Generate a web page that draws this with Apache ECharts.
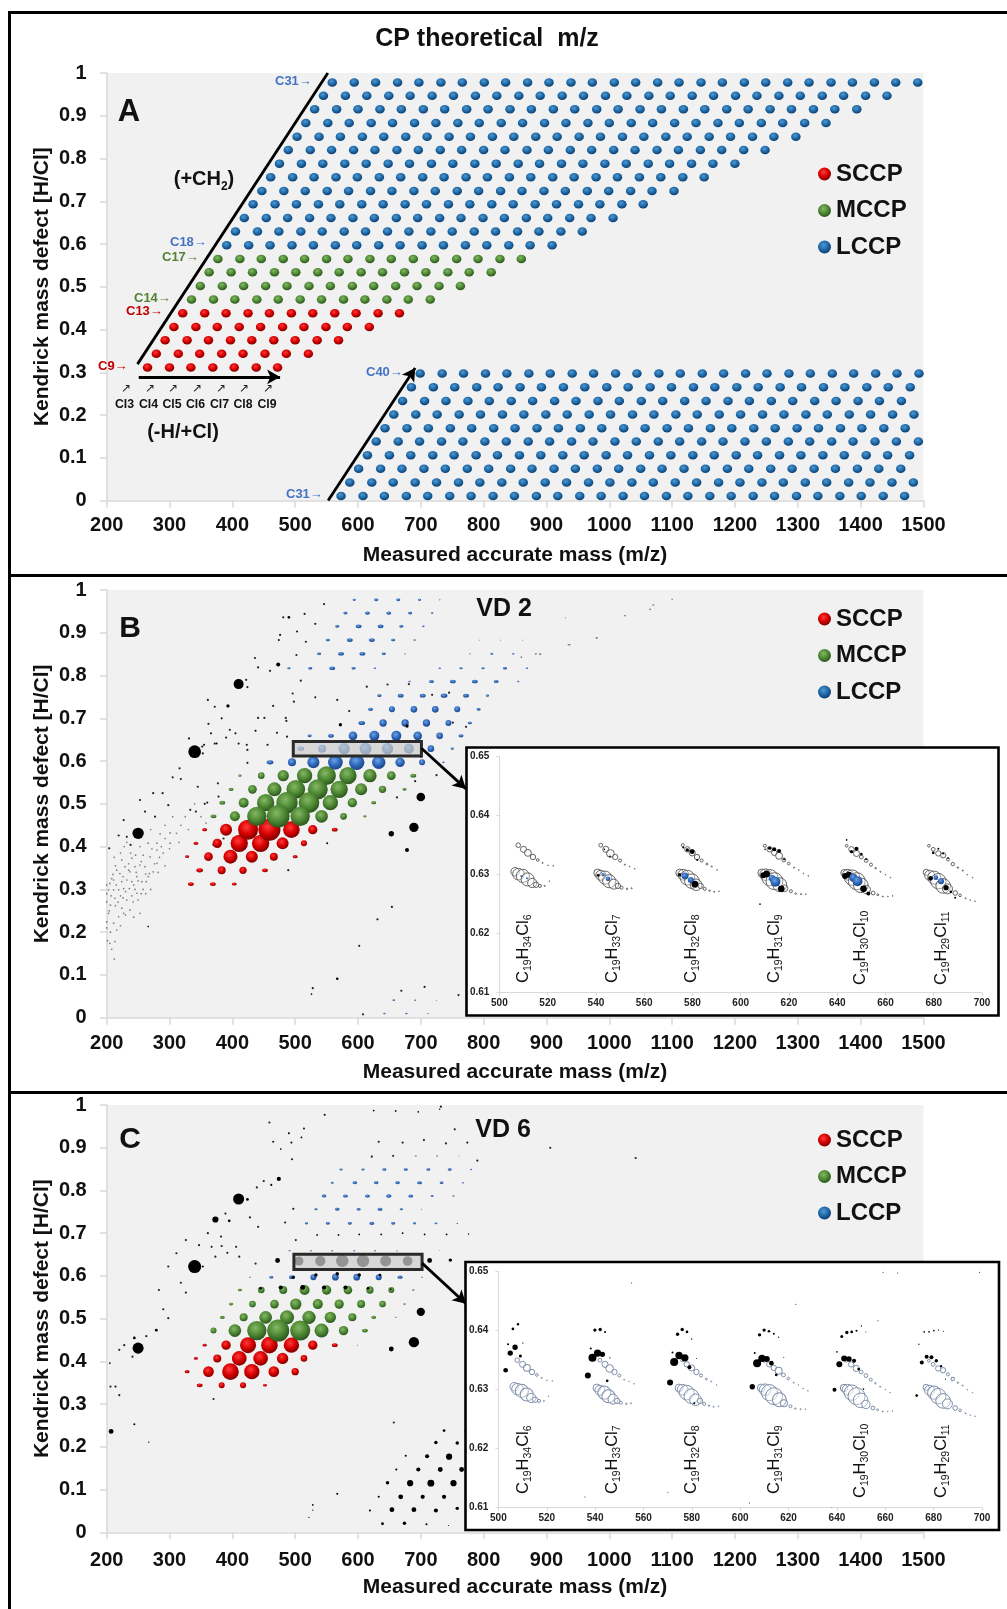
<!DOCTYPE html>
<html><head><meta charset="utf-8">
<script src="https://cdn.jsdelivr.net/npm/echarts@6/dist/echarts.min.js"></script>
<style>html,body{margin:0;padding:0;background:#fff}#c{width:1007px;height:1609px}</style>
</head><body><div id="c"></div>
<script>
// ---------- Panel A: theoretical m/z per carbon row ----------
const aSccpKmd=[.311,.343,.375,.406,.438];
const aSccpMass=[
[265,300,334,369,403,438,472],
[279,314,348,383,417,452,486,521],
[293,328,362,397,431,466,500,535,569],
[307,342,376,411,445,480,514,549,583,618],
[321,356,390,425,459,494,528,563,597,632,666]];
const aMccpKmd=[.470,.502,.534,.565];
const aMccpMass=[
[335,370,404,439,473,508,542,577,611,646,680,715],
[349,384,418,453,487,522,556,591,625,660,694,729,763],
[363,398,432,467,501,536,570,605,639,674,708,743,777,812],
[377,412,446,481,515,550,584,619,653,688,722,757,791,826,860]];
const aLccpKmd=[.597,.629,.661,.693,.724,.756,.788,.820,.851,.883,.915,.947,.978];
const aLccpMass=[
[391,426,460,495,529,564,598,633,667,702,736,771,805,840,874,909],
[405,440,474,509,543,578,612,647,681,716,750,785,819,854,888,923,957],
[419,454,488,523,557,592,626,661,695,730,764,799,833,868,902,937,971,1006],
[433,468,502,537,571,606,640,675,709,744,778,813,847,882,916,951,985,1020,1054],
[447,482,516,551,585,620,654,689,723,758,792,827,861,896,930,965,999,1034,1068,1103],
[461,496,530,565,599,634,668,703,737,772,806,841,875,910,944,979,1013,1048,1082,1117,1151],
[475,510,544,579,613,648,682,717,751,786,820,855,889,924,958,993,1027,1062,1096,1131,1165,1200],
[489,524,558,593,627,662,696,731,765,800,834,869,903,938,972,1007,1041,1076,1110,1145,1179,1214,1248],
[503,538,572,607,641,676,710,745,779,814,848,883,917,952,986,1021,1055,1090,1124,1159,1193,1228,1262,1297],
[517,552,586,621,655,690,724,759,793,828,862,897,931,966,1000,1035,1069,1104,1138,1173,1207,1242,1276,1311,1345],
[531,566,600,635,669,704,738,773,807,842,876,911,945,980,1014,1049,1083,1118,1152,1187,1221,1256,1290,1325,1359,1394],
[545,580,614,649,683,718,752,787,821,856,890,925,959,994,1028,1063,1097,1132,1166,1201,1235,1270,1304,1339,1373,1408,1442],
[559,594,628,663,697,732,766,801,835,870,904,939,973,1008,1042,1077,1111,1146,1180,1215,1249,1284,1318,1353,1387,1422,1456,1491]];
const aWrapKmd=[.0105,.042,.074,.106,.138,.169,.201,.233,.265,.297];
const aWrapMass=[
[573,608,642,677,711,746,780,815,849,884,918,953,987,1022,1056,1091,1125,1160,1194,1229,1263,1298,1332,1367,1401,1436,1470],
[587,622,656,691,725,760,794,829,863,898,932,967,1001,1036,1070,1105,1139,1174,1208,1243,1277,1312,1346,1381,1415,1450,1484],
[601,636,670,705,739,774,808,843,877,912,946,981,1015,1050,1084,1119,1153,1188,1222,1257,1291,1326,1360,1395,1429,1464],
[615,650,684,719,753,788,822,857,891,926,960,995,1029,1064,1098,1133,1167,1202,1236,1271,1305,1340,1374,1409,1443,1478],
[629,664,698,733,767,802,836,871,905,940,974,1009,1043,1078,1112,1147,1181,1216,1250,1285,1319,1354,1388,1423,1457,1492],
[643,678,712,747,781,816,850,885,919,954,988,1023,1057,1092,1126,1161,1195,1230,1264,1299,1333,1368,1402,1437,1471],
[657,692,726,761,795,830,864,899,933,968,1002,1037,1071,1106,1140,1175,1209,1244,1278,1313,1347,1382,1416,1451,1485],
[671,706,740,775,809,844,878,913,947,982,1016,1051,1085,1120,1154,1189,1223,1258,1292,1327,1361,1396,1430,1465],
[685,720,754,789,823,858,892,927,961,996,1030,1065,1099,1134,1168,1203,1237,1272,1306,1341,1375,1410,1444,1479],
[699,734,768,803,837,872,906,941,975,1010,1044,1079,1113,1148,1182,1217,1251,1286,1320,1355,1389,1424,1458,1493]];

// ---------- Panel B (VD 2): rows are [kmd, m/z, intensity, m/z, intensity, ...] ----------
const bSccp=[
[.3125,334,14,369,14,403,12],
[.3445,348,16,383,24,417,22,452,14],
[.3765,328,10,362,26,397,42,431,36,466,24,500,12],
[.4076,342,12,376,28,411,52,445,52,480,36,514,18],
[.4396,356,12,390,36,425,60,459,66,494,50,528,28,563,14]];
const bMccp=[
[.5659,412,8,446,20,481,34,515,46,550,56,584,52,619,40,653,26,688,14],
[.5339,398,12,432,26,467,42,501,56,536,60,570,52,605,36,639,22,674,10],
[.5027,384,14,418,30,453,52,487,64,522,62,556,46,591,28,625,12],
[.4708,370,14,404,30,439,58,473,68,508,58,542,38,577,20,611,8]];
const bLccp=[
[.597,460,16,495,24,529,36,564,44,598,46,633,40,667,28,702,18,736,6],
[.629,509,16,543,24,578,34,612,36,647,34,681,30,716,20,750,8],
[.659,523,10,557,14,592,26,626,30,661,30,695,26,730,20,764,12],
[.689,606,16,640,22,675,22,709,22,744,18,778,10],
[.721,620,12,654,18,689,20,723,20,758,18,792,10],
[.753,634,10,668,14,703,14,737,16,772,14,806,8],
[.786,682,6,717,12,751,14,786,14,820,12,855,6],
[.817,490,8,524,10,559,14,593,10,627,6,730,6,764,8,799,8,834,10,869,6],
[.851,538,10,573,14,607,14,641,10,675,4,778,4,813,7,847,6,883,5],
[.883,552,10,587,14,622,14,656,10,690,6,793,3,827,3,862,3],
[.915,567,10,601,14,636,14,669,10,704,6],
[.946,580,10,615,12,649,12,683,10,718,6],
[.977,594,8,629,10,664,10,698,8,730,4],
[.041,657,6,691,5,725,3],
[.010,642,6,677,6,711,4]];
const bTraceGrey=[[936,.872,8],[980,.888,6],[1025,.940,4],[1065,.955,5],[1070,.965,5],[890,.850,6],[860,.843,4],[930,.935,2],[1100,.978,3]];
const bBlack=[[250,.431,34],[340,.622,38],[410,.780,30],[700,.516,26],[689,.445,28],[653,.430,16],[678,.392,12],[473,.826,12],[393,.729,10],[572,.685,10],[678,.682,10],
[375,.641,6],[490,.936,8],[437,.671,6],[567,.091,8],[526,.055,5],[266,.213,5],[551,.408,6]];
const bTrace=[[204,.396],[219,.426],[227,.462],[232,.423],[238,.404],[253,.509],[274,.525],[289,.525],[261,.482],[277,.470],[298,.497],[316,.583],[305,.562],[318,.558],[333,.486],[342,.482],[345,.540],[360,.503],[356,.500],[377,.548],[378,.517],[331,.653],[362,.687],[355,.638],[372,.641],[366,.665],[390,.655],[396,.673],[405,.665],[423,.638],[424,.626],[353,.618],[352,.634],[410,.641],[383,.700],[424,.773],[422,.790],[372,.727],[361,.743],[436,.841],[441,.819],[460,.811],[481,.936],[515,.944],[503,.903],[476,.895],[474,.883],[546,.967],[532,.921],[517,.879],[502,.848],[509,.788],[496,.758],[498,.739],[465,.729],[441,.701],[451,.701],[485,.701],[486,.694],[471,.666],[456,.638],[424,.596],[532,.749],[567,.743],[614,.774],[647,.779],[681,.780],[586,.717],[725,.567],[691,.553],[602,.168],[631,.230],[654,.259],[528,.069],[669,.063],[706,.072],[760,.053],[608,.008],[487,.657],[662,.515],[489,.345],[386,.419],[370,.404],[751,.690],[772,.680],[718,.755],[745,.760],[786,.555],[700,.610]];
const bCloud=[[203,.299],[211,.299],[219,.299],[227,.302],[236,.302],[245,.300],[200,.271],[206,.263],[213,.279],[224,.256],[232,.275],[242,.271],[250,.275],[203,.244],[211,.221],[200,.224],[205,.174],[213,.178],[212,.137],[224,.318],[232,.322],[240,.318],[248,.330],[256,.318],[221,.337],[229,.353],[237,.341],[245,.353],[253,.357],[261,.353],[268,.337],[274,.341],[224,.369],[240,.373],[258,.380],[269,.376],[280,.392],[287,.400],[301,.408],[293,.419],[280,.408],[311,.431],[293,.450],[253,.400],[266,.408],[216,.345],[211,.322],[205,.314],[227,.244],[253,.244],[237,.252],[280,.361],[263,.318],[248,.291],[219,.236],[208,.325],[215,.310],[230,.295],[262,.336],[246,.380],[272,.395],[284,.375],[250,.320],[235,.360],[222,.285],[204,.250],[214,.262],[301,.432],[318,.450],[325,.470],[200,.210],
[210,.335],[226,.330],[243,.310],[258,.300],[266,.330],[276,.360],[290,.385],[300,.395],[255,.365],[238,.385],[228,.400],[252,.420],[270,.440],[285,.430],[305,.470],[315,.410],[330,.440],[340,.500],[350,.470],[358,.455],[200,.290],[200,.310],[207,.285],[218,.270],[226,.280],[240,.285],[255,.290],[206,.200],[216,.205],[222,.215],[230,.240],[243,.235],[201,.180],[208,.160],[262,.290],[270,.300],[282,.340],[293,.355],[235,.345],[247,.340],[214,.355],[222,.385],[232,.410],[212,.375]];

// ---------- Panel C (VD 6) ----------
const cSccp=[
[.344,348,14,383,18,417,18,452,10],
[.376,328,12,362,32,397,50,431,46,466,32,500,22],
[.407,342,10,376,24,411,44,445,44,480,34,514,20],
[.438,356,10,390,28,425,48,459,50,494,46,528,28,563,14,599,3]];
const cMccp=[
[.567,412,10,446,20,481,24,515,30,550,28,584,26,619,22,653,18,688,6],
[.534,398,10,432,20,467,26,501,34,536,30,570,28,605,24,639,20,674,6],
[.503,384,12,418,24,453,38,487,42,522,40,556,34,591,24,625,12,660,4],
[.472,370,18,404,38,439,58,473,66,508,60,542,42,577,28,611,14]];
const cLccp=[
[.597,428,4,462,10,495,14,529,18,564,20,598,20,633,18,667,12,702,4],
[.659,491,5,525,5,559,5,594,5,627,5,662,4,730,3],
[.723,518,8,552,10,587,10,622,12,656,10,690,8,724,7,758,4],
[.756,533,8,567,11,601,10,635,12,669,8,701,3],
[.787,546,11,580,12,615,12,649,13,684,12,718,7,752,5],
[.818,559,7,595,11,629,11,663,11,698,12,733,9,767,5],
[.849,573,8,608,8,642,10,676,10,712,9,746,9,780,5],
[.881,622,3,656,4,692,5,726,5,761,3]];
const cBlack=[[250,.431,32],[340,.622,38],[410,.780,32],[373,.732,18],[700,.516,24],[689,.445,30],[653,.429,14],[474,.827,12],[207,.236,14],[244,.253,6],[279,.473,8],[244,.455,8],[462,.813,6],[395,.729,8],[490,.934,6],[510,.924,5],[477,.897,5],[424,.779,8],[353,.622,6],[267,.211,4],[205,.396,5],
[506,.635,26],[540,.635,30],[575,.635,36],[608,.635,36],[644,.635,32],[679,.635,28],[472,.636,14],[714,.636,14],[747,.637,10],
[445,.571,8],[477,.573,12],[512,.573,14],[546,.573,12],[580,.573,12],[616,.571,8],[652,.569,5],[497,.597,9],[533,.602,10],[567,.605,10],[602,.602,10],[635,.602,8],
[625,.987,5],[660,.986,5],[696,.984,5],[730,.990,4],[535,.696,5],[569,.696,5],[602,.697,5],[637,.697,5],[671,.700,5],[706,.697,5],[741,.697,5],[776,.698,4],
[619,.051,6],[654,.053,14],[689,.053,14],[724,.051,12],[758,.056,10],[633,.083,6],[668,.083,14],[703,.083,12],[737,.083,12],[647,.116,10],[683,.115,18],[716,.115,20],[752,.115,18],[661,.147,6],[696,.147,12],[731,.147,14],[765,.147,14],[676,.179,6],[710,.178,12],[745,.177,18],[724,.210,10],[758,.209,10],[737,.238,8],[771,.236,6],[639,.020,8],[674,.021,10],[709,.019,6],[744,.016,3],[567,.090,6],[528,.064,5],[528,.052,4],[522,.035,4]];
const cTrace=[[220,.427],[228,.438],[241,.411],[263,.459],[290,.522],[298,.501],[283,.567],[318,.584],[326,.561],[311,.653],[298,.622],[326,.684],[347,.672],[361,.700],[367,.668],[373,.645],[382,.692],[383,.670],[392,.654],[406,.668],[411,.645],[389,.746],[428,.737],[441,.715],[437,.629],[439,.807],[450,.822],[459,.959],[495,.873],[465,.914],[494,.912],[514,.945],[547,.977],[633,.914],[671,.912],[705,.918],[740,.910],[774,.912],[754,.943],[732,.996],[622,.879],[656,.881],[484,.725],[501,.684],[370,.312],[497,.757],[657,.257],[214,.341],[220,.321],[206,.341],[1042,.876],[906,.900],[790,.870]];

// ---------- Insets: [m/z, kmd, intensity] ----------
const insetHollow=[
[507.8,.635,12],[510,.6343,16],[511.8,.6337,18],[513.9,.633,14],[515.9,.6325,7],[517.9,.632,3],[520.1,.6316,2],[522.3,.6315,2],
[506.5,.6305,22],[507.9,.6301,30],[509.7,.6298,34],[511.7,.6292,34],[513.6,.6286,24],[515.2,.6283,14],[516.8,.6281,8],[518.8,.6281,3],[520.7,.6289,2],
[542,.635,10],[544.1,.6343,16],[546,.6336,20],[548,.633,14],[550,.6324,8],[552,.6317,3],[554,.6314,2],[556.1,.631,2],
[540.7,.6303,20],[542,.6299,26],[543.8,.6295,34],[545.5,.6289,34],[547.4,.6284,26],[549.1,.6281,14],[550.6,.6278,8],[552.9,.6276,4],[554.8,.6277,3],
[576,.635,8],[577.9,.6343,14],[579.9,.6337,16],[581.9,.633,14],[583.8,.6324,8],[586,.6318,5],[588,.6314,3],[590.2,.6308,2],
[574.7,.6303,20],[576.2,.63,28],[577.9,.6295,38],[579.8,.6289,38],[581.5,.6283,30],[583.4,.6281,14],[585.1,.6276,8],[587.1,.6273,4],[589,.6271,3],[591,.6272,2],
[610,.6349,8],[612,.6343,14],[613.9,.6337,14],[615.9,.6332,18],[617.9,.6325,10],[619.9,.6319,7],[622.1,.6312,3],[624.1,.6308,2],[626,.6302,2],[628,.6298,2],
[608.7,.6303,20],[610.3,.63,30],[612.1,.6295,42],[614,.6289,44],[616.2,.6283,36],[618.1,.6277,18],[620.8,.6272,8],[622.8,.6268,4],[625,.6267,3],[627,.6267,2],
[643.9,.6349,7],[645.9,.6343,14],[648,.6336,16],[650,.633,10],[652,.6324,10],[654,.6317,8],[655.9,.6311,4],[657.9,.6305,3],[660,.63,2],[662,.6295,2],
[642.9,.6303,18],[644.4,.63,28],[646.2,.6295,40],[648.1,.6289,44],[649.8,.6282,38],[652,.6275,22],[654.9,.6269,10],[656.8,.6266,5],[658.9,.6263,3],[661,.6263,2],[663,.6264,2],
[678,.6349,7],[679.8,.6343,10],[681.9,.6336,14],[683.9,.6333,14],[685.9,.6326,8],[687.9,.6318,9],[690,.6312,4],[692,.6307,3],[693.9,.63,2],[696.1,.6295,2],
[676.9,.6304,16],[678.3,.6299,26],[680.2,.6295,34],[681.9,.6289,40],[683.9,.6281,38],[685.7,.6276,26],[688.9,.6269,12],[690.9,.6265,7],[693.2,.626,3],[695.1,.6257,2],[697.1,.6255,2]];
const insetBBlack=[
[509,.6298,4],[543.5,.6343,5],[545.8,.6331,5],[540.9,.6299,8],
[574.7,.63,10],[581,.6284,20],[576.2,.6346,6],[577.9,.6342,10],[579.9,.6339,14],[582,.6325,6],
[609.4,.6299,18],[610.8,.6301,20],[616.8,.6276,20],[610.1,.6343,5],[612,.6345,10],[613.9,.6343,12],[615.9,.634,12],[618,.6326,6],[608,.625,5],
[643.3,.6298,18],[644.9,.63,18],[650.9,.6276,20],[652.9,.6268,12],[643.9,.6359,5],[645.9,.6339,10],[648,.6344,12],[650,.6335,8],[652,.6326,6],
[678.7,.6294,14],[685.1,.6278,16],[687.1,.6271,8],[688.9,.6261,6],[681.9,.6344,6],[679.8,.6337,8],[683.9,.6336,6],[685.9,.6328,5]];
const insetBBlue=[[509.3,.6298,6],[511.4,.6294,6],[543,.63,10],[545,.6293,14],[576.9,.6298,20],[579.3,.6291,18],[613,.6294,20],[614.4,.6288,30],[646.7,.6295,24],[648.4,.6289,30],[680.9,.6295,14],[683,.6289,18]];
const insetCBlack=[
[503,.6333,14],[504.9,.6362,16],[506.9,.6372,16],[504,.6377,6],[510.1,.6379,4],[506,.6403,8],[508.1,.6411,7],[509.1,.6357,9],[535.8,.6118,3],
[537,.6324,18],[538.9,.6354,24],[541,.6362,22],[543,.636,16],[538.2,.637,6],[539.9,.6401,10],[542.1,.6402,10],[544.1,.6398,6],[546.1,.6354,4],[545,.6315,8],[555.1,.6481,3],
[571,.6312,18],[572.7,.6347,24],[574.7,.6358,22],[577.1,.6354,22],[579,.6338,12],[572,.6363,6],[574.1,.6394,10],[576,.6402,10],[578,.6398,8],[579.9,.6386,4],[581.9,.6353,3],[581,.6277,6],[570.1,.6126,3],
[605,.6305,16],[607,.6345,24],[609,.6353,22],[611,.6352,18],[612.9,.6345,14],[606,.6362,6],[608,.6393,10],[609.9,.6401,10],[611.9,.6399,8],[613.9,.6395,6],[615.9,.6389,4],[618,.6355,3],[614.9,.6325,8],[623,.6445,3],[603.8,.6108,3],
[639,.63,12],[641,.6343,18],[643,.6353,18],[645,.6352,16],[647.1,.6349,12],[640,.6364,5],[642,.639,9],[644.1,.6397,10],[646.1,.6398,8],[648.1,.64,6],[650.1,.6408,4],[652,.6398,3],[649,.6335,8],[651,.6301,5],[657,.6417,3],[659.1,.6499,3],[665.1,.6498,3],[637.9,.61,2],
[673,.629,8],[675.1,.6346,12],[677.1,.6356,12],[679.1,.6355,12],[681.1,.6349,10],[683.1,.634,7],[673.9,.6377,4],[676.1,.6398,5],[678.1,.6398,5],[680.1,.64,5],[682,.6401,4],[684.1,.6399,3],[684.9,.6318,4],[699,.6499,3]];

// tick labels / text
const insetFormulas=[['34','6'],['33','7'],['32','8'],['31','9'],['30','10'],['29','11']];
const insetColumnsX=[524.5,613.5,692.5,775,861,942];

// ---------- helpers ----------
const FF='"Liberation Sans",Arial,sans-serif';
const sphere=(l,m,d)=>({type:'radial',x:.42,y:.36,r:.64,colorStops:[{offset:0,color:l},{offset:.55,color:m},{offset:1,color:d}]});
const RED=sphere('#ff3a3a','#d80000','#7d0000'),GREEN=sphere('#86b765','#4f8a35','#2c561d'),
 BLUEA=sphere('#4f9ad2','#1f6aa8','#0d3f70'),BLUE=sphere('#6ea2e6','#3069bd','#1b4486');
const fromRows=(kmd,mass)=>mass.flatMap((r,i)=>r.map(m=>[m,kmd[i]]));
const flat=rows=>rows.flatMap(r=>{const o=[];for(let i=1;i<r.length;i+=2)o.push([r[i],r[0],r[i+1]]);return o;});
const sizeBall=v=>v[2]<18?[v[2]/2.4,v[2]/3.8]:v[2]/3;
const sizeDot=v=>v[2]/2.9;
const sizeInt=v=>v[2]/3;
const sizeHollow=v=>v[2]/2.6;
const axisGrey={color:'#d9d9d9',width:1.5};
const mainX=(g,margin,gap)=>({type:'value',gridIndex:g,min:200,max:1500,interval:100,name:'Measured accurate mass (m/z)',nameLocation:'middle',nameGap:gap,nameMoveOverlap:false,
 nameTextStyle:{fontFamily:FF,fontWeight:'bold',fontSize:21,color:'#111'},axisLine:{show:true,onZero:false,lineStyle:axisGrey},axisTick:{show:true,length:7,lineStyle:axisGrey},
 axisLabel:{margin,fontFamily:FF,fontWeight:'bold',fontSize:20,color:'#111',hideOverlap:false,formatter:v=>String(v)},splitLine:{show:false}});
const mainY=g=>({type:'value',gridIndex:g,min:0,max:1,interval:.1,name:'Kendrick mass defect [H/Cl]',nameLocation:'middle',nameGap:54,nameMoveOverlap:false,
 nameTextStyle:{fontFamily:FF,fontWeight:'bold',fontSize:21,color:'#111'},axisLine:{show:true,onZero:false,lineStyle:axisGrey},axisTick:{show:true,length:7,lineStyle:axisGrey},
 axisLabel:{margin:20,fontFamily:FF,fontWeight:'bold',fontSize:20,color:'#111',formatter:v=>String(+v.toFixed(1))},splitLine:{show:false}});
const insetGrey={color:'#d9d9d9',width:1};
const insetX=g=>({type:'value',gridIndex:g,min:500,max:700,interval:20,z:30,axisLine:{show:true,onZero:false,lineStyle:insetGrey},axisTick:{show:true,length:3,lineStyle:insetGrey},
 axisLabel:{margin:6,fontFamily:FF,fontWeight:'bold',fontSize:10,color:'#222',formatter:v=>String(v)},splitLine:{show:false}});
const insetY=g=>({type:'value',gridIndex:g,min:.61,max:.65,interval:.01,z:30,axisLine:{show:true,onZero:false,lineStyle:insetGrey},axisTick:{show:true,length:3,lineStyle:insetGrey},
 axisLabel:{margin:10,fontFamily:FF,fontWeight:'bold',fontSize:10,color:'#222',formatter:v=>v.toFixed(2)},splitLine:{show:false}});
const scat=(name,g,data,size,style,z)=>({type:'scatter',name,xAxisIndex:g,yAxisIndex:g,data,symbol:'circle',symbolSize:size,itemStyle:Object.assign({opacity:1},style),z:z||2,silent:true,animation:false,clip:true,progressive:0,large:false});
const lineSeg=(a,b,arrow)=>[{coord:a,symbol:'none'},{coord:b,symbol:arrow?'arrow':'none',symbolSize:arrow?[11,13]:0}];
const notes=(g,lines,box)=>{const s={type:'scatter',xAxisIndex:g,yAxisIndex:g,data:[],silent:true,animation:false,z:6,
 markLine:{silent:true,animation:false,z:7,label:{show:false},lineStyle:{color:'#000',width:2.8,type:'solid'},data:lines}};
 if(box)s.markArea={silent:true,animation:false,z:6,label:{show:false},itemStyle:{color:'rgba(205,205,205,.72)',borderColor:'#2a2a2a',borderWidth:3},data:[[{coord:[box[0],box[2]]},{coord:[box[1],box[3]]}]]};
 return s;};

// ---------- series ----------
const series=[
 scat('SCCP',0,fromRows(aSccpKmd,aSccpMass),[9.5,8.5],{color:RED}),
 scat('MCCP',0,fromRows(aMccpKmd,aMccpMass),[9.5,8.5],{color:GREEN}),
 scat('LCCP',0,fromRows(aLccpKmd,aLccpMass),[9.5,8.5],{color:BLUEA}),
 scat('LCCP',0,fromRows(aWrapKmd,aWrapMass),[9.5,8.5],{color:BLUEA}),
 notes(0,[lineSeg([249,.319],[552,1]),lineSeg([552.5,0],[691,.31],true),lineSeg([251,.289],[476,.289],true)]),

 scat('cloud',1,bCloud,1.7,{color:'rgba(50,50,50,.6)'}),
 scat('trace',1,bTrace,2.2,{color:'#222'}),
 scat('traceGrey',1,bTraceGrey,v=>[v[2]/2.4,1.6],{color:'#777'}),
 scat('SCCP',1,flat(bSccp),sizeBall,{color:RED},3),
 scat('MCCP',1,flat(bMccp),sizeBall,{color:GREEN},3),
 scat('LCCP',1,flat(bLccp),sizeBall,{color:BLUE},3),
 scat('black',1,bBlack,sizeInt,{color:'#000'},3),
 notes(1,[lineSeg([701,.63],[772,.535],true)],[497,701,.612,.646]),

 scat('trace',2,cTrace,2.2,{color:'#222'}),
 scat('SCCP',2,flat(cSccp),sizeBall,{color:RED},3),
 scat('MCCP',2,flat(cMccp),sizeBall,{color:GREEN},3),
 scat('LCCP',2,flat(cLccp),sizeBall,{color:BLUE},3),
 scat('black',2,cBlack,sizeDot,{color:'#000'},4),
 notes(2,[lineSeg([702,.63],[772,.535],true)],[498,702,.615,.651]),

 scat('hollow',3,insetHollow,sizeHollow,{color:'rgba(255,255,255,.35)',borderColor:'#555',borderWidth:.9},31),
 scat('black',3,insetBBlack,sizeInt,{color:'#000'},32),
 scat('blue',3,insetBBlue,sizeInt,{color:BLUE},33),

 scat('hollow',4,insetHollow,sizeHollow,{color:'rgba(255,255,255,.35)',borderColor:'#7f8fa9',borderWidth:1},31),
 scat('black',4,insetCBlack,sizeInt,{color:'#000'},32)
];

// ---------- text and frame ----------
const g=[];
const rect=(x,y,w,h)=>g.push({type:'rect',shape:{x,y,width:w,height:h},style:{fill:'#000'},z:50,silent:true});
rect(8,11,999,3);rect(8,11,3,1598);rect(11,574,996,3);rect(11,1091,996,3);
const txt=(t,x,y,size,o={})=>g.push({type:'text',x,y,rotation:o.rot||0,z:o.z||60,silent:true,style:Object.assign({text:t,fontFamily:FF,fontWeight:o.w||'bold',fontSize:size,fill:o.c||'#111',align:o.a||'center',verticalAlign:'middle'},o.rich?{rich:o.rich}:{})});
txt('CP theoretical  m/z',487,39,25);
txt('VD 2',504,609,25);
txt('VD 6',503,1130,25);
txt('A',129,112,31);txt('B',130,629,30);txt('C',130,1140,30);

const mkLbl=(c)=>({l:{fontFamily:FF,fontWeight:'bold',fontSize:13,fill:c,color:c},r:{fontFamily:FF,fontSize:13,fill:c,color:c}});
[['C31',275,81,'#4472c4'],['C18',170,242,'#4472c4'],['C17',162,257,'#548235'],['C14',134,298,'#548235'],['C13',126,311,'#c00000'],['C9',98,366,'#c00000'],['C40',366,372,'#4472c4'],['C31',286,494,'#4472c4']]
 .forEach(([t,x,y,c])=>txt('{l|'+t+'}{r|→}',x,y,13,{a:'left',rich:mkLbl(c)}));
const clNames=['Cl3','Cl4','Cl5','Cl6','Cl7','Cl8','Cl9'];
const clX=[124.5,148.5,172,195.5,219.5,243,267];
clNames.forEach((t,i)=>{txt(t,clX[i],404.5,12.3,{});txt('↗',clX[i]+1,389,12,{w:'normal',c:'#222'});});
const subRich=(fs,ss,w)=>({n:{fontFamily:FF,fontWeight:w,fontSize:fs,color:w==='bold'?'#111':'#000',verticalAlign:'top',lineHeight:fs},s:{fontFamily:FF,fontWeight:w,fontSize:ss,color:w==='bold'?'#111':'#000',verticalAlign:'bottom',lineHeight:fs*1.12}});
txt('{n|(+CH}{s|2}{n|)}',204,181,20,{rich:subRich(20,12,'bold')});
txt('(-H/+Cl)',183,432.5,20);

const formula=(p,x,y)=>txt('{n|C}{s|19}{n|H}{s|'+p[0]+'}{n|Cl}{s|'+p[1]+'}',x,y,16,{a:'left',rot:Math.PI/2,rich:subRich(16.5,10.5,'normal')});
insetFormulas.forEach((p,i)=>{formula(p,insetColumnsX[i],i>=4?985:983);formula(p,insetColumnsX[i],i>=4?1498:1494);});

const frame=(x,y,w,h)=>g.push({type:'rect',shape:{x,y,width:w,height:h},style:{fill:'#fff',stroke:'#000',lineWidth:2.6},z:20,silent:true});
frame(466.5,747.5,532,268);frame(465.5,1262,533.5,268);

const leg=top=>({show:true,data:['SCCP','MCCP','LCCP'],orient:'vertical',left:813,top,itemWidth:13,itemHeight:13,itemGap:12.5,icon:'circle',selectedMode:false,
 textStyle:{fontFamily:FF,fontWeight:'bold',fontSize:24,color:'#111'},z:10});

const gridOf=(left,top,width,height,bg)=>({left,top,width,height,show:!!bg,backgroundColor:bg||'transparent',borderWidth:0,containLabel:false});
const option={animation:false,backgroundColor:'#fff',
 grid:[gridOf(106.7,73,816.7,427.5,'#f1f1f1'),gridOf(106.7,590,816.7,427.7,'#f1f1f1'),gridOf(106.7,1105,816.7,427.3,'#f1f1f1'),gridOf(499.4,756.7,482.6,236),gridOf(498.4,1271.7,483.6,236)],
 xAxis:[mainX(0,15,44),mainX(1,16,44),mainX(2,18,44),insetX(3),insetX(4)],
 yAxis:[mainY(0),mainY(1),mainY(2),insetY(3),insetY(4)],
 legend:[leg(157),leg(602),leg(1123)],
 graphic:{elements:g},
 series};
const chart=echarts.init(document.getElementById('c'),null,{renderer:'canvas',width:1007,height:1609});
chart.setOption(option);
</script></body></html>
